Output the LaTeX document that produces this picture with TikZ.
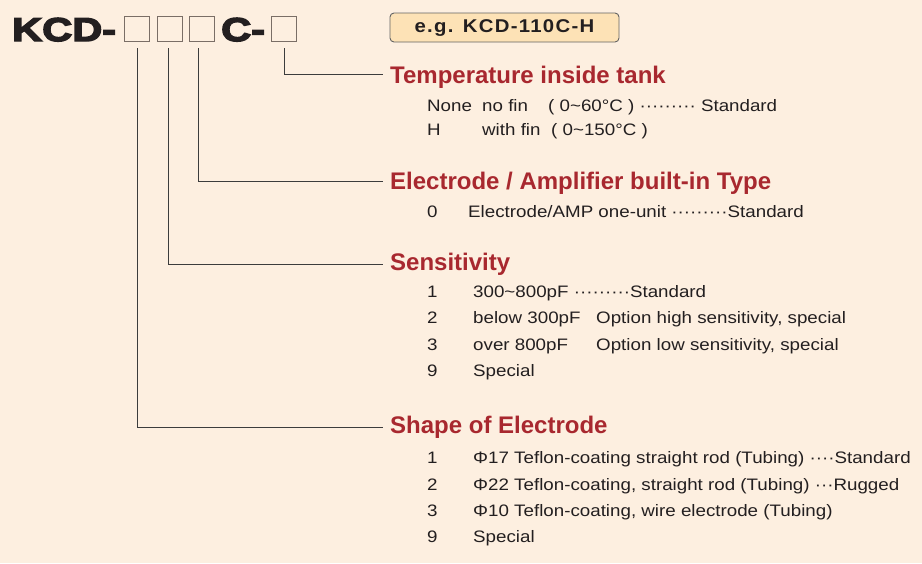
\documentclass[tikz,border=0pt]{standalone}
\usepackage{fontspec}
\setmainfont{Liberation Sans}
\newfontfamily\bodyfont[FakeStretch=1.13]{Liberation Sans}
\newfontfamily\headfont{Liberation Sans}
\newfontfamily\titlefont[FakeStretch=1.26,FakeBold=4.5]{Liberation Sans}
\newfontfamily\egfont[FakeStretch=1.1,LetterSpace=7]{Liberation Sans}
\definecolor{bg}{HTML}{FDEFE0}
\definecolor{headred}{HTML}{A8282F}
\definecolor{ink}{HTML}{231F20}
\definecolor{boxline}{HTML}{7A6E66}
\definecolor{egfill}{HTML}{FDE2B6}
\definecolor{linec}{HTML}{3C3C3C}
\tikzset{
  titletext/.style={anchor=base west, inner sep=0pt, text=ink, font=\titlefont\bfseries\fontsize{33}{36}\selectfont},
  slot/.style={draw=boxline, line width=1.3pt, minimum width=25pt, minimum height=25pt, inner sep=0pt},
  egbox/.style={draw=linec!80, line width=0.9pt, fill=egfill, rounded corners=4pt, minimum width=229pt, minimum height=29pt, inner sep=0pt, text=ink, font=\egfont\bfseries\fontsize{18.5}{20}\selectfont},
  head/.style={anchor=base west, inner sep=0pt, text=headred, font=\headfont\bfseries\fontsize{24}{28}\selectfont},
  body/.style={anchor=base west, inner sep=0pt, text=ink, font=\bodyfont\fontsize{16.6}{20}\selectfont},
  conn/.style={draw=linec, line width=0.8pt}
}
\begin{document}
\begin{tikzpicture}[x=1pt,y=-1pt]
\fill[bg] (0,0) rectangle (922,563);
\useasboundingbox (0,0) rectangle (922,563);

% title code
\node[titletext] (kcd) at (12,41) {KCD-};
\node[slot] (b1) at (137,29) {};
\node[slot] (b2) at (170,29) {};
\node[slot] (b3) at (202.3,29) {};
\node[titletext] (cdash) at (221,41) {C-};
\node[slot] (b4) at (284,29) {};

% example
\node[egbox] (eg) at (504.5,27.5) {\raisebox{-0.5pt}{e.g. KCD-110C-H}};

% headings
\node[head] (temp) at (390,83) {Temperature inside tank};
\node[head] (elec) at (390,189) {Electrode / Amplifier built-in Type};
\node[head] (sens) at (390,270) {Sensitivity};
\node[head] (shape) at (390,433) {Shape of Electrode};

% temperature rows
\node[body] (t1a) at (427,111) {None};
\node[body] (t1b) at (482,111) {no fin};
\node[body] (t1c) at (548,111) {( 0\textasciitilde 60°C ) ········· Standard};
\node[body] (t2a) at (427,135) {H};
\node[body] (t2b) at (482,135) {with fin};
\node[body] (t2c) at (551,135) {( 0\textasciitilde 150°C )};

% electrode rows
\node[body] (e1a) at (427,217) {0};
\node[body] (e1b) at (468,217) {Electrode/AMP one-unit ·········Standard};

% sensitivity rows
\node[body] (s1a) at (427,297) {1};
\node[body] (s1b) at (473,297) {300\textasciitilde 800pF ·········Standard};
\node[body] (s2a) at (427,323.5) {2};
\node[body] (s2b) at (473,323.5) {below 300pF};
\node[body] (s2c) at (596,323.5) {Option high sensitivity, special};
\node[body] (s3a) at (427,350) {3};
\node[body] (s3b) at (473,350) {over 800pF};
\node[body] (s3c) at (596,350) {Option low sensitivity, special};
\node[body] (s4a) at (427,376.5) {9};
\node[body] (s4b) at (473,376.5) {Special};

% shape rows
\node[body] (p1a) at (427,463) {1};
\node[body] (p1b) at (473,463) {Φ17 Teflon-coating straight rod (Tubing) ····Standard};
\node[body] (p2a) at (427,490) {2};
\node[body] (p2b) at (473,490) {Φ22 Teflon-coating, straight rod (Tubing) ···Rugged};
\node[body] (p3a) at (427,516) {3};
\node[body] (p3b) at (473,516) {Φ10 Teflon-coating, wire electrode (Tubing)};
\node[body] (p4a) at (427,542) {9};
\node[body] (p4b) at (473,542) {Special};

% connectors
\draw[conn] ([yshift=-6pt]b4.south) |- ([xshift=-7pt,yshift=9pt]temp.base west);
\draw[conn] ([xshift=-4pt,yshift=-6pt]b3.south) |- ([xshift=-7pt,yshift=8pt]elec.base west);
\draw[conn] ([xshift=-1.7pt,yshift=-6pt]b2.south) |- ([xshift=-7pt,yshift=6pt]sens.base west);
\draw[conn] ([yshift=-6pt]b1.south) |- ([xshift=-7pt,yshift=6pt]shape.base west);
\end{tikzpicture}
\end{document}
